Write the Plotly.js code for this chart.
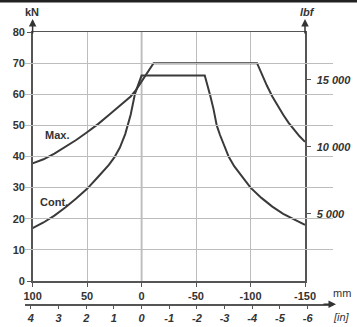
<!DOCTYPE html>
<html>
<head>
<meta charset="utf-8">
<script src="https://cdn.plot.ly/plotly-3.0.1.min.js"></script>
<style>html,body{margin:0;padding:0;background:#fff;}#chart{width:357px;height:327px;}</style>
</head>
<body>
<div id="chart"></div>
<script>
// Stroke in mm (positive = left), force in kN
const maxX = [100, 90, 80, 70, 60, 50, 40, 30, 20, 10, 5, 0, -5, -11, -106, -110, -115, -120, -125, -130, -135, -140, -145, -150];
const maxY = [37.8, 39.1, 40.9, 43.0, 45.3, 47.8, 50.4, 53.3, 56.3, 59.3, 61.4, 64.0, 66.8, 70, 70, 66.6, 62.8, 59.3, 56.2, 53.4, 50.8, 48.5, 46.5, 44.7];
const contX = [100, 90, 80, 70, 60, 50, 40, 30, 25, 20, 15, 10, 6, 3, 0, -58, -60, -63, -66, -69, -72, -76, -80, -85, -90, -100, -110, -120, -130, -140, -150];
const contY = [17, 18.8, 21, 23.6, 26.5, 29.6, 33.4, 37.3, 39.7, 42.8, 47.2, 53.4, 60.2, 63.4, 66, 66, 63.6, 59.6, 55.3, 50, 46.9, 43.3, 39.9, 36.9, 34.6, 30, 26.7, 23.9, 21.6, 19.7, 18];
const mmTicks = [100, 50, 0, -50, -100, -150];
const mmLabels = ['100', '50', '0', '-50', '-100', '-150'];
const kNTicks = [0, 10, 20, 30, 40, 50, 60, 70, 80];
const inTicks = [4, 3, 2, 1, 0, -1, -2, -3, -4, -5, -6];
const inLabels = ['4', '3', '2', '1', '0', '-1', '-2', '-3', '-4', '-5', '-6'];
const lbfTicks = [5000, 10000, 15000];
const lbfLabels = ['5 000', '10 000', '15 000'];
const seriesNames = ['Max.', 'Cont.'];

const FONT = 'Liberation Sans, Arial, sans-serif';
const lineCol = '#3a3a3a';
const axCol = '#555';

const traces = [
  {x: maxX, y: maxY, mode: 'lines', line: {color: lineCol, width: 2}, name: seriesNames[0], hoverinfo: 'skip'},
  {x: contX, y: contY, mode: 'lines', line: {color: lineCol, width: 2}, name: seriesNames[1], hoverinfo: 'skip'},
  {x: inTicks, y: inTicks.map(() => null), xaxis: 'x2', yaxis: 'y', mode: 'lines', hoverinfo: 'skip', showlegend: false},
  {x: mmTicks, y: mmTicks.map(() => null), xaxis: 'x', yaxis: 'y2', mode: 'lines', hoverinfo: 'skip', showlegend: false}
];

const W = 308, H = 278, L = 25, T = 32;
const px = v => (v - L) / W;
const py = v => (T + H - v) / H;

const bold = {family: FONT, size: 11, color: '#333', weight: 'bold'};
const boldIt = {family: FONT, size: 11, color: '#333', weight: 'bold', style: 'italic'};

const layout = {
  width: 357, height: 327,
  margin: {l: L, r: 357 - L - W, t: T, b: 327 - T - H, pad: 0},
  paper_bgcolor: '#fff', plot_bgcolor: 'rgba(0,0,0,0)',
  showlegend: false,
  xaxis: {
    domain: [px(32.6), px(305)], range: [100, -150], anchor: 'y',
    tickvals: mmTicks, ticktext: mmLabels, ticks: 'outside', ticklen: 4, tickcolor: axCol, tickwidth: 1,
    tickfont: bold, showgrid: true, gridcolor: '#bdbdbd', gridwidth: 1,
    zeroline: false,
    showline: true, linecolor: axCol, linewidth: 1.5, mirror: true
  },
  xaxis2: {
    domain: [0, 1], range: [4.211, -6.917], anchor: 'free', position: py(304.3),
    tickvals: inTicks, ticktext: inLabels, ticks: 'outside', ticklen: 3, tickcolor: axCol, tickwidth: 1,
    tickfont: boldIt, showgrid: false, zeroline: false,
    showline: true, linecolor: axCol, linewidth: 1.5
  },
  yaxis: {
    domain: [py(281), 1], range: [0, 80], anchor: 'x',
    tickvals: kNTicks, ticks: 'outside', ticklen: 4, tickcolor: axCol, tickwidth: 1,
    tickfont: bold, showgrid: true, gridcolor: '#bdbdbd', gridwidth: 1, zeroline: false,
    showline: true, linecolor: axCol, linewidth: 1.5
  },
  yaxis2: {
    overlaying: 'y', side: 'right', anchor: 'x', range: [0, 18550],
    tickvals: lbfTicks, ticktext: lbfLabels, ticks: 'outside', ticklen: 4, tickcolor: axCol, tickwidth: 1,
    ticklabelstandoff: 4,
    tickfont: boldIt, showgrid: false, zeroline: false,
    showline: true, linecolor: axCol, linewidth: 1.5
  },
  shapes: [
    {type: 'rect', xref: 'paper', yref: 'paper', x0: px(0), x1: px(357), y0: py(2.5), y1: py(0), fillcolor: '#222', line: {width: 0}},
    {type: 'line', xref: 'x', yref: 'paper', x0: 0, x1: 0, y0: py(281), y1: 1, line: {color: '#8a8a8a', width: 1.5}, layer: 'below'}
  ],
  annotations: [
    {xref: 'paper', yref: 'paper', x: px(31.5), y: py(12), text: 'kN', showarrow: false, font: bold, xanchor: 'center', yanchor: 'middle'},
    {xref: 'paper', yref: 'paper', x: px(307), y: py(12), text: 'lbf', showarrow: false, font: boldIt, xanchor: 'center', yanchor: 'middle'},
    {xref: 'x', yref: 'y', x: 77.6, y: 46.9, text: seriesNames[0], showarrow: false, font: bold},
    {xref: 'x', yref: 'y', x: 80.8, y: 25.4, text: seriesNames[1], showarrow: false, font: bold},
    {xref: 'paper', yref: 'paper', x: px(342), y: py(292.5), text: 'mm', showarrow: false, xanchor: 'center', yanchor: 'middle', font: {family: FONT, size: 11, color: '#333'}},
    {xref: 'paper', yref: 'paper', x: px(341), y: py(316.5), text: '[in]', showarrow: false, xanchor: 'center', yanchor: 'middle', font: {family: FONT, size: 11, color: '#333', style: 'italic'}},
    {xref: 'x', yref: 'paper', x: 100, y: py(19), ax: 0, ay: 16, text: '', showarrow: true, arrowhead: 2, arrowsize: 1, arrowwidth: 1.5, arrowcolor: '#333'},
    {xref: 'x', yref: 'paper', x: -150, y: py(19), ax: 0, ay: 16, text: '', showarrow: true, arrowhead: 2, arrowsize: 1, arrowwidth: 1.5, arrowcolor: '#333'},
    {xref: 'paper', yref: 'paper', x: px(336), y: py(304.3), ax: -14, ay: 0, text: '', showarrow: true, arrowhead: 2, arrowsize: 1, arrowwidth: 1.5, arrowcolor: '#333'}
  ]
};

Plotly.newPlot('chart', traces, layout, {displayModeBar: false, staticPlot: true});
</script>
</body>
</html>
